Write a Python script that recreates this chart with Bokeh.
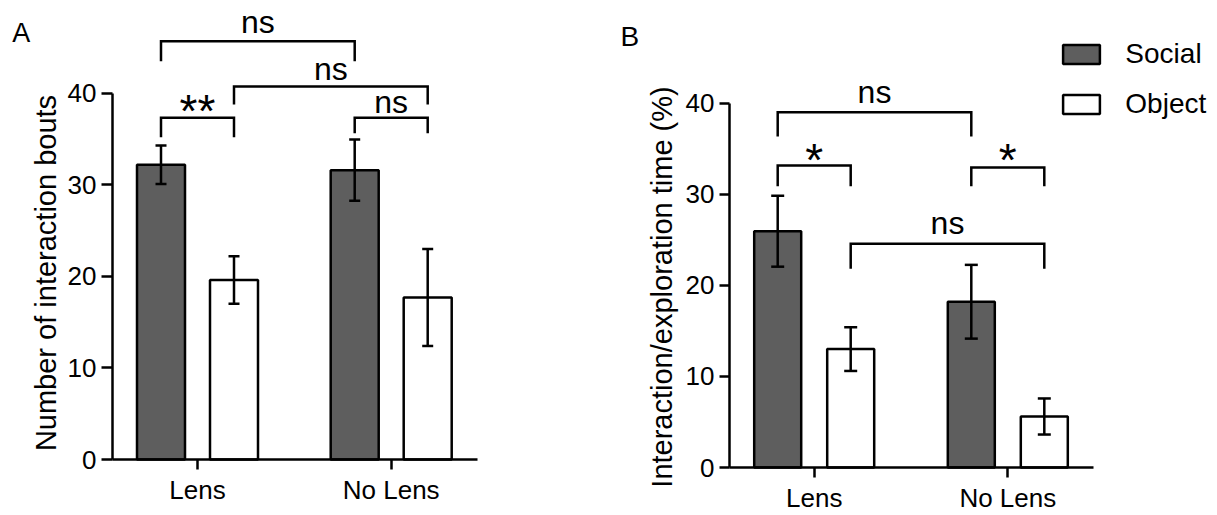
import math
from bokeh.plotting import figure
from bokeh.models import (Range1d, FixedTicker, ColumnDataSource, Whisker, TeeHead,
                          Legend, LegendItem)
from bokeh.layouts import row
from bokeh.embed import file_html
from bokeh.resources import INLINE
from bokeh.core.properties import value

# ---------------- data ----------------
categories = ["Lens", "No Lens"]
series_names = ["Social", "Object"]
y_ticks = [0, 10, 20, 30, 40]

a_social = [32.2, 31.6]
a_social_sem = [2.1, 3.35]
a_object = [19.6, 17.7]
a_object_sem = [2.6, 5.3]

b_social = [25.95, 18.2]
b_social_sem = [3.9, 4.05]
b_object = [13.0, 5.6]
b_object_sem = [2.4, 1.98]

a_ylabel = "Number of interaction bouts"
b_ylabel = "Interaction/exploration time (%)"
panel_letters = ["A", "B"]

# significance: (left bar, right bar, label); bar = (series index, category index)
a_sig = [((0, 0), (0, 1), "ns"), ((1, 0), (1, 1), "ns"), ((0, 0), (1, 0), "**"), ((0, 1), (1, 1), "ns")]
b_sig = [((0, 0), (0, 1), "ns"), ((0, 0), (1, 0), "*"), ((0, 1), (1, 1), "*"), ((1, 0), (1, 1), "ns")]

# bracket geometry (bar level, leg bottom, text y) in data units
a_br_geom = [(45.69, 43.51, 47.78), (40.74, 38.77, 42.68), (37.32, 35.2, 38.09), (37.32, 35.64, 39.10)]
b_br_geom = [(39.01, 36.34, 41.28), (33.16, 30.89, 33.76), (32.94, 30.89, 33.76), (24.56, 21.82, 26.83)]

FONT = "Liberation Sans"
DARK = "#5e5e5e"
LW = 2.5
H = 515


def make_panel(width, x0_px, unit, y0_px, ppu, axis_left_px, axis_right_px,
               bar_off_px, bar_w_px, tee, tick_out_y,
               social, social_sem, obj, obj_sem, sig, geom):
    """Frame fills the whole figure; axes are drawn at fixed locations."""
    px2x = lambda px: (px - x0_px) / unit
    px2y = lambda py: (y0_px - py) / ppu
    p = figure(width=width, height=H, output_backend="svg", toolbar_location=None,
               x_range=Range1d(px2x(0), px2x(width)), y_range=Range1d(px2y(H), px2y(0)),
               min_border_left=0, min_border_right=0, min_border_top=0, min_border_bottom=0)
    p.outline_line_color = None
    p.xgrid.visible = False
    p.ygrid.visible = False
    p.background_fill_color = "white"
    p.border_fill_color = "white"

    bar_off = bar_off_px / unit
    renderers = []
    bar_x = {}
    for si, (vals, sems, fill) in enumerate([(social, social_sem, DARK), (obj, obj_sem, "white")]):
        off = -bar_off if si == 0 else bar_off
        xs = [i + off for i in range(len(categories))]
        for ci, x in enumerate(xs):
            bar_x[(si, ci)] = x
        src = ColumnDataSource(dict(x=xs, top=vals,
                                    upper=[v + s for v, s in zip(vals, sems)],
                                    lower=[v - s for v, s in zip(vals, sems)]))
        r = p.vbar(x="x", top="top", bottom=0, width=bar_w_px / unit, source=src,
                   fill_color=fill, line_color="black", line_width=LW)
        renderers.append(r)
        w = Whisker(source=src, base="x", upper="upper", lower="lower",
                    line_color="black", line_width=LW, level="overlay",
                    upper_head=TeeHead(size=tee, line_width=LW, line_color="black"),
                    lower_head=TeeHead(size=tee, line_width=LW, line_color="black"))
        p.add_layout(w)

    # significance brackets
    xs_l, ys_l, tx, ty, tt, sx, sy, st = [], [], [], [], [], [], [], []
    for (b1, b2, lab), (yb, yleg, ytxt) in zip(sig, geom):
        x1, x2 = bar_x[b1], bar_x[b2]
        xs_l.append([x1, x1, x2, x2])
        ys_l.append([yleg, yb, yb, yleg])
        if "*" in lab:
            sx.append((x1 + x2) / 2); sy.append(ytxt); st.append(lab)
        else:
            tx.append((x1 + x2) / 2); ty.append(ytxt); tt.append(lab)
    p.multi_line(xs=xs_l, ys=ys_l, line_color="black", line_width=LW, line_join="miter")
    p.text(x=tx, y=ty, text=tt, text_align="center", text_baseline="alphabetic",
           text_font=value(FONT), text_font_size="32px", text_color="black")
    p.text(x=sx, y=sy, text=st, text_align="center", text_baseline="alphabetic",
           text_font=value(FONT), text_font_size="46px", text_color="black")

    # axes at fixed positions
    ya = p.yaxis[0]
    ya.ticker = FixedTicker(ticks=y_ticks)
    ya.bounds = (0, 40)
    ya.fixed_location = px2x(axis_left_px)
    xa = p.xaxis[0]
    xa.ticker = FixedTicker(ticks=list(range(len(categories))))
    xa.major_label_overrides = {i: c for i, c in enumerate(categories)}
    xa.bounds = (px2x(axis_left_px), px2x(axis_right_px))
    xa.fixed_location = 0
    for ax in (xa, ya):
        ax.axis_line_width = LW
        ax.axis_line_color = "black"
        ax.major_tick_line_width = LW
        ax.major_tick_line_color = "black"
        ax.major_tick_in = 0
        ax.minor_tick_in = 0
        ax.minor_tick_out = 0
        ax.major_label_text_font = FONT
        ax.major_label_text_font_size = "26px"
        ax.major_label_text_color = "black"
    ya.major_tick_out = tick_out_y
    ya.major_label_standoff = 5
    xa.major_tick_out = 10
    xa.major_label_standoff = 5
    return p, renderers, px2x, px2y


def side_texts(p, px2x, px2y, letter, letter_px, letter_size, ylabel, ylabel_px):
    p.text(x=[px2x(letter_px[0])], y=[px2y(letter_px[1])], text=[letter], text_align="left",
           text_baseline="alphabetic", text_font=value(FONT), text_font_size=letter_size,
           text_color="black")
    p.text(x=[px2x(ylabel_px[0])], y=[px2y(ylabel_px[1])], text=[ylabel], angle=math.pi / 2,
           text_align="center", text_baseline="alphabetic", text_font=value(FONT),
           text_font_size="29px", text_color="black")


# panel A: page x 0..600 ; x=0 at 197 px, y=0 at 459 px
pA, _, ax2x, ay2y = make_panel(600, 197, 193.7, 459, 9.155, 112, 477, 36.5, 48, 11, 11,
                               a_social, a_social_sem, a_object, a_object_sem, a_sig, a_br_geom)
side_texts(pA, ax2x, ay2y, panel_letters[0], (11.7, 32.0), "27px", a_ylabel, (45.3, 272.5))

# panel B: page x 600..1217 ; x=0 at 213.7 px (page 813.7), y=0 at 467 px
pB, rB, bx2x, by2y = make_panel(617, 213.7, 193.6, 467, 9.1075, 129, 493, 36.5, 47, 13, 10,
                                b_social, b_social_sem, b_object, b_object_sem, b_sig, b_br_geom)
side_texts(pB, bx2x, by2y, panel_letters[1], (20.1, 35.6), "28px", b_ylabel, (61, 286.5))

legend = Legend(items=[LegendItem(label=n, renderers=[r]) for n, r in zip(series_names, rB)],
                location=(458.35, 395.15), orientation="vertical",
                glyph_width=46, glyph_height=24, label_standoff=21, spacing=18,
                label_text_font=FONT, label_text_font_size="28px", label_text_color="black",
                label_height=24, padding=0, margin=0,
                background_fill_alpha=0, border_line_alpha=0)
pB.add_layout(legend)

layout = row(pA, pB)
open("out.html", "w").write(file_html(layout, INLINE))
